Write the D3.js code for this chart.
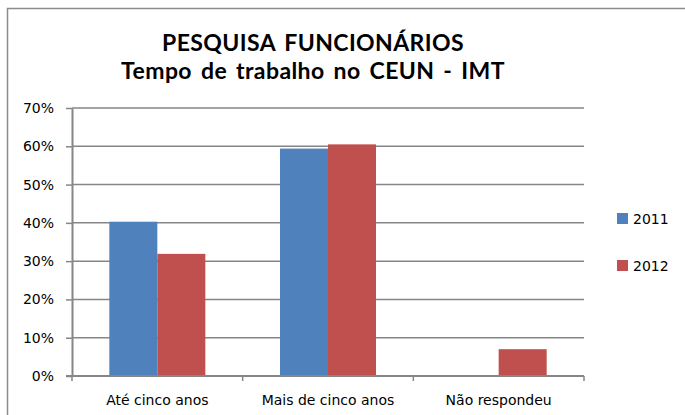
<!DOCTYPE html>
<html>
<head>
<meta charset="utf-8">
<script src="https://cdn.jsdelivr.net/npm/d3@7"></script>
<style>
body { margin: 0; background: #fff; }
svg { display: block; font-family: "DejaVu Sans", sans-serif; }
.title { font-family: Lato, "Open Sans", sans-serif; word-spacing: 3px; letter-spacing: 0.4px; }
</style>
</head>
<body>
<svg></svg>
<script>
var categories = ['Até cinco anos', 'Mais de cinco anos', 'Não respondeu']
var series = ['2011', '2012']
var values2011 = [0.403, 0.594, 0]
var values2012 = [0.319, 0.605, 0.07]
var yTicks = [0, 0.1, 0.2, 0.3, 0.4, 0.5, 0.6, 0.7]
var titleLines = ['PESQUISA FUNCIONÁRIOS', 'Tempo de trabalho no CEUN - IMT']

var width = 685, height = 415
var colors = ['#4F81BD', '#C0504D']
var axisColor = '#868686'

var svg = d3.select('svg').attr('width', width).attr('height', height)

// chart frame (right/bottom edges fall outside the picture)
svg.append('rect')
	.attr('x', 7.5).attr('y', 8.5)
	.attr('width', 700).attr('height', 420)
	.attr('fill', 'none')
	.attr('stroke', '#8c8c8c')
	.attr('stroke-width', 1.5)

var plot = {left: 72, right: 584, top: 108, bottom: 376}

var x = d3.scaleBand()
	.domain(categories)
	.range([plot.left, plot.right])
	.paddingInner(0.4375)
	.paddingOuter(0.21875)

var xInner = d3.scaleBand().domain(series).range([0, x.bandwidth()])

var y = d3.scaleLinear().domain([0, 0.7]).range([plot.bottom, plot.top])

// gridlines
svg.append('g').selectAll('line')
	.data(yTicks.slice(1))
	.enter().append('line')
	.attr('x1', plot.left).attr('x2', plot.right)
	.attr('y1', function(d) {return y(d)}).attr('y2', function(d) {return y(d)})
	.attr('stroke', axisColor)
	.attr('stroke-width', 1.5)

// bars
var rows = categories.map(function(c, i) {return {cat: c, vals: [values2011[i], values2012[i]]}})
var groups = svg.append('g').selectAll('g')
	.data(rows)
	.enter().append('g')
	.attr('transform', function(d) {return 'translate(' + x(d.cat) + ',0)'})

groups.selectAll('rect')
	.data(function(d) {return d.vals.map(function(v, j) {return {s: series[j], v: v, j: j}})})
	.enter().append('rect')
	.filter(function(d) {return d.v > 0})
	.attr('x', function(d) {return xInner(d.s)})
	.attr('y', function(d) {return y(d.v)})
	.attr('width', xInner.bandwidth())
	.attr('height', function(d) {return y(0) - y(d.v)})
	.attr('fill', function(d) {return colors[d.j]})

// y axis
var yAxis = svg.append('g')
	.attr('transform', 'translate(' + plot.left + ',0)')
	.call(d3.axisLeft(y).tickValues(yTicks).tickFormat(d3.format('.0%')).tickSizeInner(6).tickSizeOuter(0).tickPadding(12))
	.attr('font-family', null).attr('font-size', null)
yAxis.select('.domain').attr('stroke', axisColor).attr('stroke-width', 2)
yAxis.selectAll('.tick line').attr('stroke', axisColor).attr('stroke-width', 1.5)
yAxis.selectAll('.tick text').style('font-size', '14px').attr('fill', '#000')

// x axis with ticks at category boundaries
var xAxis = svg.append('g')
	.attr('transform', 'translate(0,' + plot.bottom + ')')
xAxis.append('line')
	.attr('x1', plot.left - 6).attr('x2', plot.right)
	.attr('stroke', axisColor).attr('stroke-width', 2)
var bounds = categories.map(function(c) {return x(c) - x.step() * x.paddingInner() / 2}).concat([plot.right])
xAxis.selectAll('.bt')
	.data(bounds)
	.enter().append('line')
	.attr('x1', function(d) {return d}).attr('x2', function(d) {return d})
	.attr('y1', 0).attr('y2', 5)
	.attr('stroke', axisColor).attr('stroke-width', 1.5)
xAxis.selectAll('text')
	.data(categories)
	.enter().append('text')
	.attr('x', function(d) {return x(d) + x.bandwidth() / 2})
	.attr('y', 29)
	.attr('text-anchor', 'middle')
	.style('font-size', '14px')
	.text(function(d) {return d})

// title: one text, two lines
svg.append('text')
	.attr('class', 'title')
	.attr('text-anchor', 'middle')
	.attr('font-weight', 'bold')
	.style('font-size', '23px')
	.selectAll('tspan')
	.data(titleLines)
	.enter().append('tspan')
	.attr('x', 313)
	.attr('y', function(d, i) {return 51 + i * 28})
	.text(function(d) {return d})

// legend
var legend = svg.append('g').selectAll('g')
	.data(series)
	.enter().append('g')
	.attr('transform', function(d, i) {return 'translate(617,' + (213 + i * 47) + ')'})
legend.append('rect')
	.attr('width', 11).attr('height', 11)
	.attr('fill', function(d, i) {return colors[i]})
legend.append('text')
	.attr('x', 16).attr('y', 11)
	.style('font-size', '14px')
	.text(function(d) {return d})
</script>
</body>
</html>
